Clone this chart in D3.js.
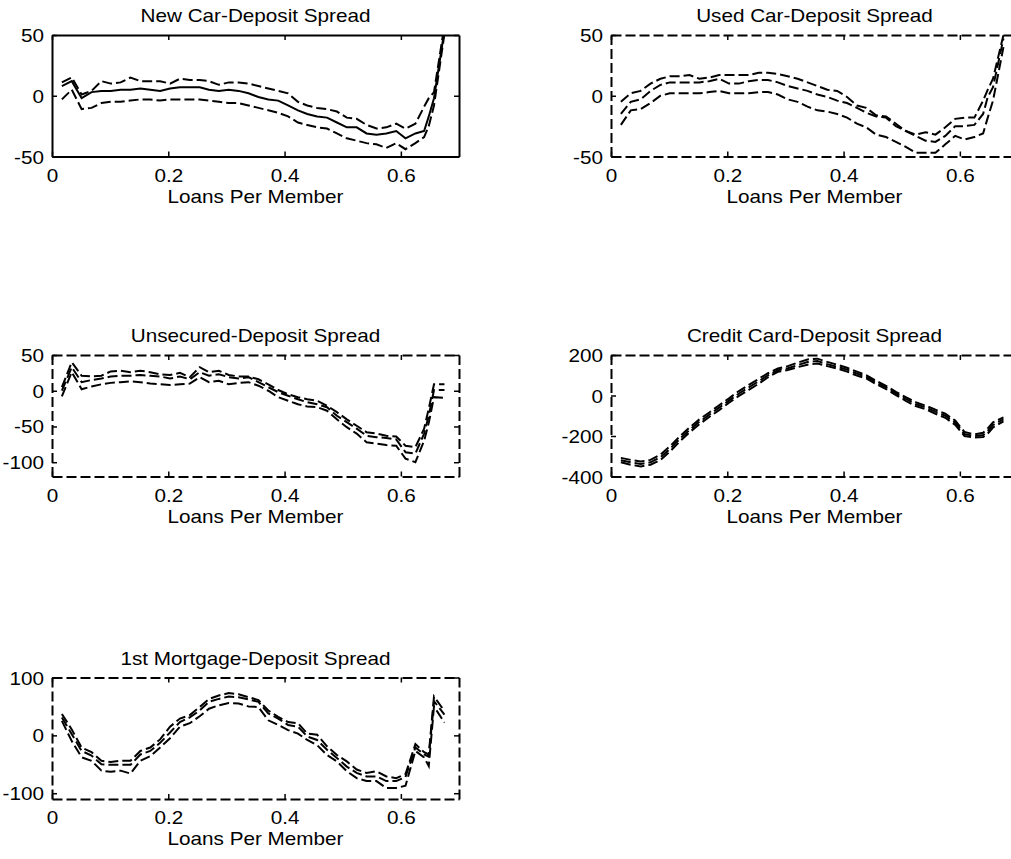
<!DOCTYPE html>
<html>
<head>
<meta charset="utf-8">
<script src="https://cdn.jsdelivr.net/npm/d3@7"></script>
<style>
  body { margin: 0; background: #fff; }
  svg { display: block; }
  text { font-family: "Liberation Sans", Arial, sans-serif; font-size: 18px; font-weight: normal; fill: #000; }
</style>
</head>
<body>
<div id="chart"></div>
<script>
// loans per member (x grid shared by every panel)
var loansPerMember = [0.017, 0.034, 0.051, 0.068, 0.085, 0.101, 0.118, 0.135, 0.152, 0.169,
  0.186, 0.203, 0.220, 0.237, 0.254, 0.270, 0.287, 0.304, 0.321, 0.338,
  0.355, 0.372, 0.389, 0.406, 0.423, 0.439, 0.456, 0.473, 0.490, 0.507,
  0.524, 0.541, 0.558, 0.575, 0.592, 0.608, 0.625, 0.640, 0.648, 0.657, 0.675];

var newCarUpper = [11, 15, 1, 4, 12, 10, 11, 15, 12, 12, 12, 10, 14, 13, 13, 12, 9, 11, 11, 10,
  8, 6, 4, 2, -5, -8, -10, -11, -13, -18, -19, -24, -27, -26, -23, -27, -23, -9, -2, 3, 58];
var newCarEst = [8, 12, -2, 3, 4, 4, 5, 5, 6, 5, 4, 6, 7, 7, 7, 5, 4, 5, 4, 2,
  -1, -3, -4, -8, -12, -15, -17, -18, -22, -26, -26, -31, -32, -31, -29, -35, -31, -29, -17, -2, 54];
var newCarLower = [-3, 5, -11, -10, -6, -5, -5, -4, -3, -3, -4, -3, -3, -3, -3, -4, -5, -6, -6, -8,
  -10, -12, -14, -17, -22, -24, -26, -27, -31, -35, -37, -39, -40, -43, -39, -44, -39, -34, -25, -8, 51];

var usedCarUpper = [-5, 2, 4, 10, 14, 16, 16, 17, 14, 15, 17, 17, 17, 17, 19, 19, 18, 16, 14, 11,
  8, 5, 4, -1, -8, -10, -16, -17, -23, -29, -32, -30, -32, -26, -19, -18, -18, -4, 5, 14, 50];
var usedCarEst = [-15, -5, -3, 4, 9, 11, 11, 11, 11, 12, 14, 10, 10, 12, 13, 13, 11, 8, 6, 4,
  1, -1, -4, -6, -10, -14, -17, -18, -25, -29, -33, -37, -38, -33, -25, -25, -24, -15, -1, 7, 47];
var usedCarLower = [-24, -12, -11, -6, 0, 2, 2, 2, 2, 3, 4, 2, 2, 2, 3, 3, 1, -3, -5, -9,
  -12, -13, -15, -18, -23, -26, -32, -34, -38, -42, -47, -47, -47, -40, -33, -36, -34, -31, -18, -4, 40];

var unsecuredUpper = [5, 40, 21, 20, 21, 27, 28, 26, 28, 26, 23, 22, 25, 19, 33, 26, 28, 22, 20, 20,
  16, 9, 1, -5, -9, -12, -14, -21, -30, -40, -49, -58, -60, -63, -64, -77, -79, -53, -25, 9, 9];
var unsecuredEst = [0, 33, 12, 15, 17, 20, 21, 21, 22, 21, 20, 17, 20, 16, 26, 21, 23, 19, 17, 19,
  12, 5, -2, -7, -12, -16, -19, -23, -35, -44, -53, -63, -65, -66, -68, -86, -88, -60, -35, 1, 1];
var unsecuredLower = [-8, 26, 2, 6, 9, 11, 12, 13, 12, 10, 9, 8, 9, 10, 19, 12, 14, 9, 11, 12,
  7, 0, -9, -14, -19, -22, -23, -28, -40, -51, -60, -72, -74, -76, -77, -95, -100, -70, -45, -9, -10];

var creditCardUpper = [-308, -318, -326, -318, -292, -252, -203, -158, -118, -84, -48, -14, 22, 52, 82, 110, 133, 145, 162, 178,
  182, 166, 152, 137, 118, 100, 73, 48, 18, -8, -33, -50, -70, -90, -124, -180, -192, -184, -162, -133, -108];
var creditCardEst = [-320, -330, -338, -330, -305, -265, -215, -170, -130, -95, -60, -25, 10, 40, 70, 100, 125, 135, 150, 165,
  170, 155, 142, 128, 108, 92, 65, 40, 10, -17, -42, -59, -80, -100, -134, -190, -200, -195, -175, -145, -118];
var creditCardLower = [-330, -342, -350, -342, -318, -278, -228, -182, -142, -106, -72, -36, -2, 28, 58, 90, 117, 126, 140, 152,
  158, 145, 133, 118, 98, 84, 56, 32, 2, -26, -52, -68, -90, -110, -145, -200, -208, -205, -188, -158, -128];

var mortgageUpper = [37, 10, -21, -29, -44, -46, -44, -44, -27, -21, -7, 15, 29, 35, 49, 63, 69, 73, 71, 66,
  61, 43, 32, 23, 21, 3, 1, -19, -34, -45, -59, -65, -62, -71, -74, -67, -15, -29, -33, 67, 42];
var mortgageEst = [31, 2, -27, -35, -50, -51, -51, -51, -33, -27, -13, 5, 23, 31, 43, 58, 63, 67, 66, 62,
  58, 38, 29, 18, 15, -2, -8, -25, -39, -54, -65, -71, -71, -79, -79, -72, -21, -33, -37, 59, 36];
var mortgageLower = [25, -10, -38, -44, -61, -63, -61, -66, -44, -36, -21, -5, 15, 21, 33, 46, 52, 56, 55, 50,
  49, 26, 18, 9, 3, -8, -17, -34, -45, -62, -74, -79, -79, -91, -91, -87, -27, -38, -53, 50, 22];

var titles = ['New Car-Deposit Spread', 'Used Car-Deposit Spread', 'Unsecured-Deposit Spread',
  'Credit Card-Deposit Spread', '1st Mortgage-Deposit Spread'];
var xLabel = 'Loans Per Member';
var xDomain = [0, 0.7];
var xTicks = [0, 0.2, 0.4, 0.6];
var xTickLabels = ['0', '0.2', '0.4', '0.6'];
var yDomains = [[-50, 50], [-50, 50], [-120, 50], [-400, 200], [-110, 100]];
var yTicks = [[-50, 0, 50], [-50, 0, 50], [-100, -50, 0, 50], [-400, -200, 0, 200], [-100, 0, 100]];
var yTickLabels = [['-50', '0', '50'], ['-50', '0', '50'], ['-100', '-50', '0', '50'],
  ['-400', '-200', '0', '200'], ['-100', '0', '100']];

var series = [
  [newCarUpper, newCarEst, newCarLower],
  [usedCarUpper, usedCarEst, usedCarLower],
  [unsecuredUpper, unsecuredEst, unsecuredLower],
  [creditCardUpper, creditCardEst, creditCardLower],
  [mortgageUpper, mortgageEst, mortgageLower]
];

var width = 1011, height = 859;
var axW = 407, axH = 121.5;
var cols = [52, 611];
var rows = [35, 355, 677.5];
var stretch = 1.15;   // the original type is drawn wide
var dash = '10,4';

var svg = d3.select('#chart').append('svg')
  .attr('width', width)
  .attr('height', height);

function stretchText(sel, dx, dy){
  sel.selectAll('text')
    .attr('x', null).attr('y', null).attr('dy', null)
    .attr('transform', 'translate(' + dx + ',' + dy + ') scale(' + stretch + ',1)');
}

series.forEach(function(lines, k){
  var x0 = cols[k % 2], y0 = rows[Math.floor(k / 2)];
  var boxDash = k === 0 ? null : dash;

  var x = d3.scaleLinear().domain(xDomain).range([x0, x0 + axW]);
  var y = d3.scaleLinear().domain(yDomains[k]).range([y0 + axH, y0]);

  var g = svg.append('g');

  g.append('clipPath').attr('id', 'clip' + k)
    .append('rect')
    .attr('x', x0).attr('y', y0)
    .attr('width', axW).attr('height', axH);

  var line = d3.line()
    .x(function(d, i){ return x(loansPerMember[i]); })
    .y(function(d){ return y(d); });

  g.append('g').attr('clip-path', 'url(#clip' + k + ')')
    .selectAll('path').data(lines)
    .enter().append('path')
    .attr('d', line)
    .attr('fill', 'none')
    .attr('stroke', '#000')
    .attr('stroke-width', 2)
    .attr('stroke-dasharray', function(d, i){ return (k === 0 && i === 1) ? null : dash; });

  var bottom = g.append('g')
    .attr('transform', 'translate(0,' + (y0 + axH) + ')')
    .call(d3.axisBottom(x).tickValues(xTicks)
      .tickFormat(function(d, i){ return xTickLabels[i]; })
      .tickSizeInner(-5).tickSizeOuter(0));
  stretchText(bottom, 0, 25);

  var top = g.append('g')
    .attr('transform', 'translate(0,' + y0 + ')')
    .call(d3.axisTop(x).tickValues(xTicks).tickFormat('')
      .tickSizeInner(-5).tickSizeOuter(0));

  var left = g.append('g')
    .attr('transform', 'translate(' + x0 + ',0)')
    .call(d3.axisLeft(y).tickValues(yTicks[k])
      .tickFormat(function(d, i){ return yTickLabels[k][i]; })
      .tickSizeInner(-5).tickSizeOuter(0));
  stretchText(left, -8, 6.5);

  var right = g.append('g')
    .attr('transform', 'translate(' + (x0 + axW) + ',0)')
    .call(d3.axisRight(y).tickValues(yTicks[k]).tickFormat('')
      .tickSizeInner(-5).tickSizeOuter(0));

  [bottom, top, left, right].forEach(function(a){
    a.select('.domain')
      .attr('stroke-width', 2)
      .attr('stroke-dasharray', boxDash);
    a.selectAll('.tick line').attr('stroke-width', 1.5);
    a.attr('font-size', null).attr('font-family', null);
  });

  g.append('text')
    .attr('transform', 'translate(' + (x0 + axW / 2) + ',' + (y0 - 13) + ') scale(' + stretch + ',1)')
    .attr('text-anchor', 'middle')
    .text(titles[k]);

  g.append('text')
    .attr('transform', 'translate(' + (x0 + axW / 2) + ',' + (y0 + axH + 46) + ') scale(' + stretch + ',1)')
    .attr('text-anchor', 'middle')
    .text(xLabel);
});
</script>
</body>
</html>
